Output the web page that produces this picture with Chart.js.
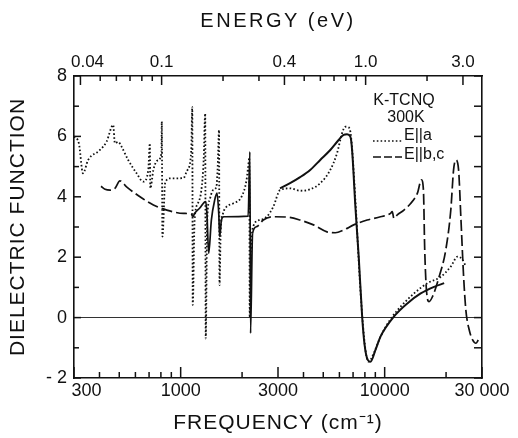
<!DOCTYPE html>
<html><head><meta charset="utf-8">
<script src="https://cdn.jsdelivr.net/npm/chart.js@4.4.1/dist/chart.umd.min.js"></script>
<style>html,body{margin:0;padding:0;background:#fff}#wrap{width:518px;height:438px}</style>
</head><body><div id="wrap"><canvas id="c" width="518" height="438"></canvas></div>
<script>
// E||a (dotted): frequency (cm-1) and dielectric function
const freqA=[300,317,332,352,402,433,467,476,494,513,553,608,656,694,706,710,735,769,805,808,814,839,888,1033,1065,1081,1127,1140,1146,1170,1215,1263,1296,1319,1327,1349,1387,1440,1497,1519,1542,1550,1572,1613,1677,1807,1987,2104,2142,2171,2180,2196,2266,2446,2640,2845,3069,3438,3851,4313,4832,5412,5839,6180,6416,6660,6843,7186,7605,8049,8345,8845,9541,10686,11968,13925,16206,18833,21093,22774,24107,25002];
const epsA=[6.0,5.77,4.78,5.22,5.55,5.82,6.38,5.77,5.82,5.66,5.22,4.78,4.5,4.89,5.77,4.28,4.89,5.2,5.44,6.49,2.68,4.45,4.61,4.62,4.8,4.89,5.55,6.98,0.42,3.2,3.78,4.22,5.2,6.76,-0.69,3.2,3.9,4.22,4.33,5.0,6.21,1.08,2.9,3.45,3.67,3.78,4.0,4.56,5.0,5.3,0.0,1.5,3.01,3.23,3.34,3.67,4.22,4.28,4.2,4.25,4.45,4.89,5.44,6.1,6.32,6.3,5.99,3.9,0.91,-1.07,-1.46,-1.18,-0.63,-0.05,0.36,0.8,1.14,1.35,1.69,2.02,1.91,1.69];
// solid curve (fit) for E||a
const freqFit=[3069,3438,3851,4313,4832,5412,5947,6293,6539,6790,6922,7186,7460,7756,7956,8261,8518,9015,9541,11094,12914,15013,17466,19567];
const epsFit=[4.28,4.45,4.65,4.89,5.22,5.55,5.88,6.05,6.07,5.99,5.55,3.67,2.02,0.03,-0.85,-1.4,-1.46,-1.07,-0.63,0.03,0.47,0.8,1.02,1.14];
// E||b,c (dashed)
const freqBC=[407,426,451,476,504,543,632,735,855,1033,1127,1148,1170,1238,1326,1345,1372,1414,1468,1507,1537,1554,1584,1626,2142,2184,2201,2251,2356,2540,2845,3312,3851,4479,5213,5728,6293,7047,8205,9541,10686,10894,11094,11533,12427,13404,14471,15140,15487,15716,16075,16506,17146,18489,19931,21093,21764,22323,23033,23625,24380,25002,25979,26993,28003,28771];
const epsBC=[4.35,4.25,4.22,4.28,4.53,4.33,4.0,3.73,3.56,3.45,3.43,3.34,3.45,3.62,3.84,3.45,2.13,3.23,3.89,4.12,3.45,2.68,3.23,3.34,3.36,5.49,-0.52,2.79,3.01,3.23,3.34,3.33,3.23,3.07,2.84,2.81,2.9,3.07,3.23,3.34,3.45,3.51,3.29,3.4,3.56,3.78,4.12,4.56,4.23,2.24,0.8,0.53,0.69,1.35,2.24,3.56,4.89,5.22,4.89,3.34,1.35,0.25,-0.41,-0.74,-0.85,-0.74];
// axes
const bottomTicks=[300,400,500,600,700,800,900,1000,2000,3000,4000,5000,6000,7000,8000,9000,10000,20000,30000];
const bottomTickLabels=['     300','','','','','','','1000','','3000','','','','','','','10000','','30 000'];
const topTicksEV=[0.04,0.05,0.06,0.07,0.08,0.09,0.1,0.2,0.3,0.4,0.5,0.6,0.7,0.8,0.9,1.0,2.0,3.0];
const topTickLabels=['   0.04','','','','','','0.1','','','0.4','','','','','','1.0','','3.0'];
const CM_PER_EV=8065.54;
const yTicks=[-2,-1,0,1,2,3,4,5,6,7,8];
const yTickLabels=['- 2','','0','','2','','4','','6','','8'];

const FONT='"Liberation Sans", Arial, sans-serif';
const INK='#111';

// widen letter spacing of an axis title only
function spacedTitle(s,spacing){
  if(s._spacedPatched)return;
  const orig=s.drawTitle.bind(s);
  s.drawTitle=function(){const c=this.ctx;const prev=c.letterSpacing;c.letterSpacing=spacing;orig();c.letterSpacing=prev||'0px';};
  s._spacedPatched=true;
}

const tickMarks={id:'tickMarks',afterDraw(chart){
  const ctx=chart.ctx,a=chart.chartArea;
  const xb=chart.scales.x,yl=chart.scales.y;
  ctx.save();ctx.strokeStyle=INK;ctx.lineWidth=1.5;
  const ln=(x1,y1,x2,y2)=>{ctx.beginPath();ctx.moveTo(x1,y1);ctx.lineTo(x2,y2);ctx.stroke();};
  bottomTicks.forEach((v,i)=>{const p=xb.getPixelForValue(v);const L=bottomTickLabels[i]?11:6;ln(p,a.bottom,p,a.bottom-L);});
  topTicksEV.forEach((e,i)=>{const p=xb.getPixelForValue(e*CM_PER_EV);const L=topTickLabels[i]?9:5;ln(p,a.top,p,a.top+L);});
  yTicks.forEach((v,i)=>{const p=yl.getPixelForValue(v);const L=yTickLabels[i]?7:5;ln(a.left,p,a.left+L,p);ln(a.right,p,a.right-8,p);});
  ctx.restore();
}};

const legendText={id:'legendText',afterDraw(chart){
  const ctx=chart.ctx,a=chart.chartArea;
  ctx.save();ctx.fillStyle=INK;ctx.strokeStyle=INK;
  ctx.font='16px '+FONT;ctx.textBaseline='middle';
  ctx.textAlign='center';
  ctx.fillText('K-TCNQ',a.right-78,a.top+25);
  ctx.fillText('300K',a.right-76,a.top+42);
  ctx.textAlign='left';
  ctx.fillText('E||a',a.right-78,a.top+60);
  ctx.fillText('E||b,c',a.right-78,a.top+79);
  ctx.lineWidth=1.6;
  ctx.setLineDash([1.6,2.2]);
  ctx.beginPath();ctx.moveTo(a.right-109,a.top+65);ctx.lineTo(a.right-80,a.top+65);ctx.stroke();
  ctx.setLineDash([8,3]);
  ctx.beginPath();ctx.moveTo(a.right-109,a.top+81);ctx.lineTo(a.right-80,a.top+81);ctx.stroke();
  ctx.restore();
}};

const tickFont={family:FONT,size:18};
new Chart(document.getElementById('c'),{
  type:'line',
  data:{datasets:[
    {label:'E||a',xAxisID:'x',yAxisID:'y',data:freqA.map((f,i)=>({x:f,y:epsA[i]})),borderColor:INK,borderWidth:1.8,borderDash:[1.6,2.2],pointRadius:0,cubicInterpolationMode:'monotone',fill:false},
    {label:'fit',xAxisID:'x',yAxisID:'y',data:freqFit.map((f,i)=>({x:f,y:epsFit[i]})),borderColor:INK,borderWidth:2,pointRadius:0,cubicInterpolationMode:'monotone',fill:false},
    {label:'E||b,c',xAxisID:'x',yAxisID:'y',data:freqBC.map((f,i)=>({x:f,y:epsBC[i]})),borderColor:INK,borderWidth:1.7,borderDash:[11,4],pointRadius:0,cubicInterpolationMode:'monotone',fill:false,
      segment:{borderDash:c=>(c.p0.parsed.x>=1140&&c.p1.parsed.x<=2260)?[]:undefined}}
  ]},
  options:{
    responsive:false,animation:false,
    layout:{padding:0},
    plugins:{legend:{display:false},tooltip:{enabled:false}},
    scales:{
      x:{type:'logarithmic',position:'bottom',min:300,max:30000,
        afterBuildTicks:s=>{s.ticks=bottomTicks.map(v=>({value:v}));},
        ticks:{autoSkip:false,maxRotation:0,minRotation:0,padding:2,color:INK,font:tickFont,callback:(v,i)=>bottomTickLabels[i]},
        grid:{display:false,drawTicks:false},border:{display:true,color:INK,width:1.6},
        title:{display:true,text:'FREQUENCY (cm⁻¹)',color:INK,font:{family:FONT,size:21},padding:{top:0,bottom:2}},
        afterFit:s=>{s.height=60;spacedTitle(s,'1px');}},
      x2:{type:'logarithmic',position:'top',min:300,max:30000,
        afterBuildTicks:s=>{s.ticks=topTicksEV.map(e=>({value:e*CM_PER_EV}));},
        ticks:{autoSkip:false,maxRotation:0,minRotation:0,padding:3,color:INK,font:{family:FONT,size:17},callback:(v,i)=>topTickLabels[i]},
        grid:{display:false,drawTicks:false},border:{display:true,color:INK,width:1.6},
        title:{display:true,text:'ENERGY (eV)',color:INK,font:{family:FONT,size:20},padding:{top:9,bottom:0}},
        afterFit:s=>{s.height=76;spacedTitle(s,'2.5px');}},
      y:{type:'linear',position:'left',min:-2,max:8,
        afterBuildTicks:s=>{s.ticks=yTicks.map(v=>({value:v}));},
        ticks:{autoSkip:false,padding:7,color:INK,font:{family:FONT,size:18},callback:(v,i)=>yTickLabels[i]},
        grid:{drawTicks:false,lineWidth:1,color:c=>(c.tick&&c.tick.value===0)?'#333':'rgba(0,0,0,0)'},
        border:{display:true,color:INK,width:1.6},
        title:{display:true,text:'DIELECTRIC FUNCTION',color:INK,font:{family:FONT,size:21},padding:{top:6,bottom:0}},
        afterFit:s=>{s.width=74;spacedTitle(s,'1px');}},
      y2:{type:'linear',position:'right',min:-2,max:8,
        ticks:{display:false},grid:{display:false,drawTicks:false},border:{display:true,color:INK,width:1.6},
        afterFit:s=>{s.width=36;}}
    }
  },
  plugins:[tickMarks,legendText]
});
</script></body></html>
